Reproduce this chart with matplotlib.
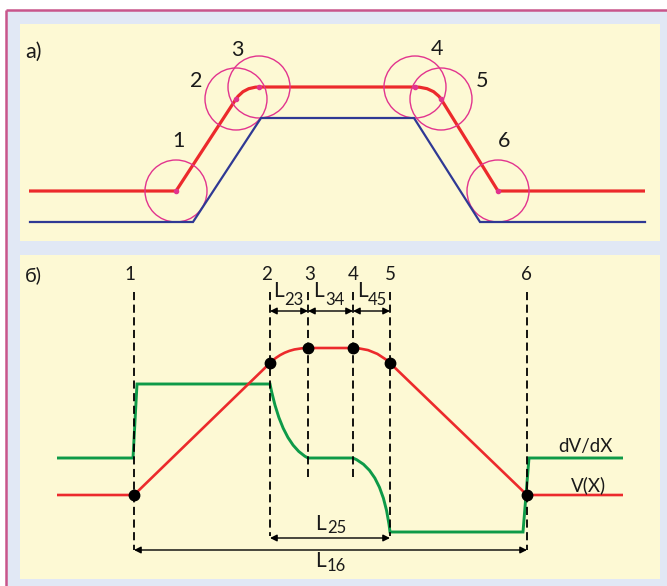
import numpy as np
import matplotlib
matplotlib.use("Agg")
from matplotlib import pyplot as plt
from matplotlib.path import Path
from matplotlib.patches import PathPatch, Rectangle, Circle

plt.rcParams['font.family'] = ['Lato', 'DejaVu Sans']

# ---- colours ----
c_bg = '#e1e8f5'
c_panel = '#fdf9d4'
c_border = '#c8558b'
c_red = '#ec2a2c'
c_blue = '#2f3994'
c_circ = '#e2348e'
c_green = '#0e9a48'
c_txt = '#1a1a1a'

# ---- panel a) : trajectory (red) and contour (blue), pixel units ----
a_red_x = [29, 176, 236, 259, 415, 441, 498, 645]
a_red_y = [191, 191, 99, 87, 87, 99, 191, 191]
a_red_ctrl = {2: (244, 87), 4: (433, 87)}          # rounded segments
a_blue_x = [30, 193, 261, 414, 480, 645]
a_blue_y = [222, 222, 118, 118, 222, 222]
a_circle_r = 31
a_labels = ['1', '2', '3', '4', '5', '6']
a_label_x = [178, 196, 237, 437, 482, 504]
a_label_y = [147, 87, 56, 55, 87, 147]

# ---- panel б) : V(X) and dV/dX ----
b_v_x = [57, 134, 270, 308, 353, 390, 527, 623]
b_v_y = [495, 495, 363, 348, 348, 363, 495, 495]
b_v_ctrl = {2: (285, 348), 4: (374, 348)}
b_d_x = [57, 133, 137, 270, 308, 353, 390, 523, 529, 623]
b_d_y = [458, 458, 384, 384, 458, 458, 532, 532, 458, 458]
b_d_ctrl = {3: (282, 445), 5: (383, 470)}
b_dash_x = [134, 270, 308, 353, 390, 527]
b_dash_bottom = [550, 536, 477, 477, 536, 550]
b_num_x = [130, 267, 310, 353, 390, 526]


def make_path(xs, ys, ctrl):
    verts = [(xs[0], ys[0])]
    codes = [Path.MOVETO]
    for i in range(len(xs) - 1):
        if i in ctrl:
            verts += [ctrl[i], (xs[i + 1], ys[i + 1])]
            codes += [Path.CURVE3, Path.CURVE3]
        else:
            verts.append((xs[i + 1], ys[i + 1]))
            codes.append(Path.LINETO)
    return Path(verts, codes)


fig = plt.figure(figsize=(6.67, 5.86), dpi=100)
fig.patch.set_facecolor(c_bg)
ax = fig.add_axes([0, 0, 1, 1])
ax.set_xlim(0, 667)
ax.set_ylim(586, 0)
ax.axis('off')

# background, border and panels
ax.add_patch(Rectangle((0, 0), 667, 10, facecolor='white', edgecolor='none'))
ax.add_patch(Rectangle((0, 0), 6, 586, facecolor='white', edgecolor='none'))
ax.plot([6, 667], [10, 10], color=c_border, lw=1.8, solid_capstyle='butt')
ax.plot([6, 6], [10, 586], color=c_border, lw=1.8, solid_capstyle='butt')
ax.add_patch(Rectangle((20, 24), 640, 217, facecolor=c_panel, edgecolor='none'))
ax.add_patch(Rectangle((20, 255), 640, 324, facecolor=c_panel, edgecolor='none'))

# ---- panel a ----
ax.plot(a_blue_x, a_blue_y, color=c_blue, lw=1.6, solid_joinstyle='miter')
ax.add_patch(PathPatch(make_path(a_red_x, a_red_y, a_red_ctrl), facecolor='none',
                       edgecolor=c_red, lw=2.3, joinstyle='round'))
for i in range(1, 7):
    ax.add_patch(Circle((a_red_x[i], a_red_y[i]), a_circle_r, facecolor='none',
                        edgecolor=c_circ, lw=1.0))
    ax.plot(a_red_x[i], a_red_y[i], 'o', color=c_circ, ms=3)
for t, x, y in zip(a_labels, a_label_x, a_label_y):
    ax.text(x, y, t, ha='center', va='baseline', fontsize=15.5, color=c_txt)
ax.text(25, 58, 'a)', ha='left', va='baseline', fontsize=15.5, color=c_txt)

# ---- panel б ----
for x, yb in zip(b_dash_x, b_dash_bottom):
    ax.plot([x, x], [292, yb], color='black', lw=1.3, linestyle=(0, (4.5, 2.5)))
for t, x in zip(a_labels, b_num_x):
    ax.text(x, 280, t, ha='center', va='baseline', fontsize=13.5, color=c_txt)
ax.text(25, 281, 'б)', ha='left', va='baseline', fontsize=14.5, color=c_txt)

ax.add_patch(PathPatch(make_path(b_d_x, b_d_y, b_d_ctrl), facecolor='none',
                       edgecolor=c_green, lw=2.1, joinstyle='miter'))
ax.add_patch(PathPatch(make_path(b_v_x, b_v_y, b_v_ctrl), facecolor='none',
                       edgecolor=c_red, lw=1.9, joinstyle='round'))
ax.plot(b_v_x[1:7], b_v_y[1:7], 'o', color='black', ms=7.5, ls='none')

# dimension arrows
arr = dict(arrowstyle='<|-|>', color='black', lw=1.0, shrinkA=0, shrinkB=0,
           mutation_scale=10)
dims = [(270, 308, 311), (308, 353, 311), (353, 390, 311),
        (270, 390, 538), (134, 527, 550)]
for x0, x1, y in dims:
    ax.annotate('', xy=(x1, y), xytext=(x0, y), arrowprops=arr)

# L labels: (main x, main baseline, sub text, sub x, sub baseline)
L_labels = [(273, 297, '23', 284, 305), (313, 297, '34', 325, 305),
            (357, 297, '45', 368, 305), (315, 530, '25', 327, 533),
            (315, 567, '16', 327, 571)]
for x, y, s, sx, sy in L_labels:
    ax.text(x, y, 'L', ha='left', va='baseline', fontsize=15, color=c_txt)
    ax.text(sx, sy, s, ha='left', va='baseline', fontsize=12, color=c_txt)

ax.text(558, 452, 'dV/dX', ha='left', va='baseline', fontsize=13.5, color=c_txt)
ax.text(571, 491, 'V(X)', ha='left', va='baseline', fontsize=13.5, color=c_txt)

fig.savefig('out.png', dpi=100, facecolor=fig.get_facecolor())
